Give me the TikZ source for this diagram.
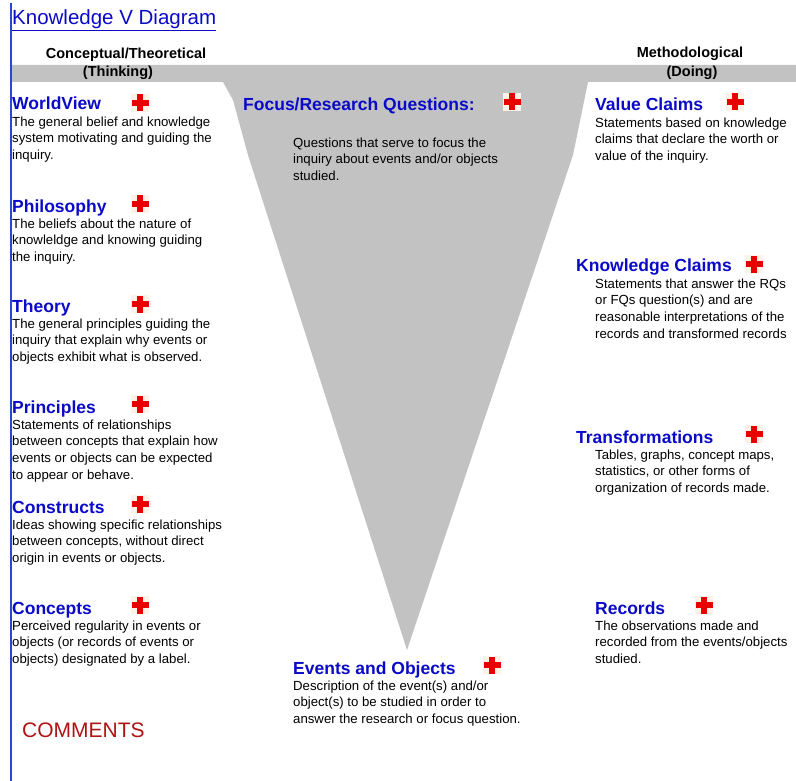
\documentclass[tikz,border=0pt]{standalone}
\usepackage{fontspec}
\setmainfont{Liberation Sans}
\definecolor{vblue}{RGB}{10,10,200}
\definecolor{lineblue}{RGB}{40,70,210}
\definecolor{vgray}{RGB}{194,194,194}
\definecolor{crossred}{RGB}{232,0,0}
\definecolor{crossbg}{RGB}{252,242,232}
\definecolor{commred}{RGB}{175,20,20}
\tikzset{
  head/.style={font=\fontsize{17.5}{20}\selectfont\bfseries, text=vblue, anchor=base west, inner sep=0pt},
  bodytext/.style={font=\fontsize{13.2}{16.8}\selectfont, text=black, anchor=north west, inner sep=0pt, align=left},
  sidehead/.style={font=\fontsize{14.5}{17}\selectfont\bfseries, text=black, anchor=base, inner sep=0pt},
  redcross/.style={minimum size=18pt, inner sep=0pt, fill=crossbg,
    path picture={
      \fill[crossred] ([xshift=-8.5pt,yshift=-2.6pt]path picture bounding box.center) rectangle ([xshift=8.5pt,yshift=2.6pt]path picture bounding box.center);
      \fill[crossred] ([xshift=-2.6pt,yshift=-8.5pt]path picture bounding box.center) rectangle ([xshift=2.6pt,yshift=8.5pt]path picture bounding box.center);
    }}
}
\newcommand{\bs}{\strut}
\begin{document}
\begin{tikzpicture}[x=1pt,y=-1pt]
\useasboundingbox (0,0) rectangle (796,781);
\fill[white] (0,0) rectangle (796,781);
% V shape with band
\fill[vgray] (12,65) -- (796,65) -- (796,82) -- (588,82) -- (573,155) -- (407,650) -- (248,155) -- (233,100) -- (223,82) -- (12,82) -- cycle;
% left blue rule
\draw[lineblue, line width=1.4pt] (11,3) -- (11,781);
% title
\node[font=\fontsize{20.5}{24}\selectfont, text=vblue, anchor=base west, inner sep=0pt] (title) at (12,25) {\underline{Knowledge V Diagram}};
% side headers
\node[sidehead] (concept) at (126,58.5) {Conceptual/Theoretical};
\node[sidehead] (thinking) at (118,77) {(Thinking)};
\node[sidehead] (method) at (690,57.5) {Methodological};
\node[sidehead] (doing) at (692,77) {(Doing)};
% left column
\node[head] (wv) at (12,110) {WorldView};
\node[redcross] (cwv) at (140,103) {};
\node[bodytext] (wvb) at (12,126-11.8) {\bs The general belief and knowledge\\system motivating and guiding the\\inquiry.};
\node[head] (ph) at (12,212) {Philosophy};
\node[redcross] (cph) at (140,204) {};
\node[bodytext] (phb) at (12,228-11.8) {\bs The beliefs about the nature of\\knowleldge and knowing guiding\\the inquiry.};
\node[head] (th) at (12,312) {Theory};
\node[redcross] (cth) at (140,304) {};
\node[bodytext] (thb) at (12,328-11.8) {\bs The general principles guiding the\\inquiry that explain why events or\\objects exhibit what is observed.};
\node[head] (pr) at (12,413) {Principles};
\node[redcross] (cpr) at (140,404) {};
\node[bodytext] (prb) at (12,429-11.8) {\bs Statements of relationships\\between concepts that explain how\\events or objects can be expected\\to appear or behave.};
\node[head] (co) at (12,513) {Constructs};
\node[redcross] (cco) at (140,504) {};
\node[bodytext] (cob) at (12,529-11.8) {\bs Ideas showing specific relationships\\between concepts, without direct\\origin in events or objects.};
\node[head] (cn) at (12,614) {Concepts};
\node[redcross] (ccn) at (140,605) {};
\node[bodytext] (cnb) at (12,630-11.8) {\bs Perceived regularity in events or\\objects (or records of events or\\objects) designated by a label.};
\node[font=\fontsize{21}{24}\selectfont, text=commred, anchor=base west, inner sep=0pt] (comments) at (22,737) {COMMENTS};
% middle
\node[head] (fq) at (243,111) {Focus/Research Questions:};
\node[redcross] (cfq) at (512,102) {};
\node[bodytext] (fqb) at (293,147-11.8) {\bs Questions that serve to focus the\\inquiry about events and/or objects\\studied.};
\node[head] (eo) at (293,674) {Events and Objects};
\node[redcross] (ceo) at (492,665) {};
\node[bodytext] (eob) at (293,690-11.8) {\bs Description of the event(s) and/or\\object(s) to be studied in order to\\answer the research or focus question.};
% right column
\node[head] (vc) at (595,111) {Value Claims};
\node[redcross] (cvc) at (735,102) {};
\node[bodytext] (vcb) at (595,127-11.8) {\bs Statements based on knowledge\\claims that declare the worth or\\value of the inquiry.};
\node[head] (kc) at (576,272) {Knowledge Claims};
\node[redcross] (ckc) at (754,264) {};
\node[bodytext] (kcb) at (595,288-11.8) {\bs Statements that answer the RQs\\or FQs question(s) and are\\reasonable interpretations of the\\records and transformed records};
\node[head] (tr) at (576,443) {Transformations};
\node[redcross] (ctr) at (754,434) {};
\node[bodytext] (trb) at (595,459-11.8) {\bs Tables, graphs, concept maps,\\statistics, or other forms of\\organization of records made.};
\node[head] (rc) at (595,614) {Records};
\node[redcross] (crc) at (704,605) {};
\node[bodytext] (rcb) at (595,630-11.8) {\bs The observations made and\\recorded from the events/objects\\studied.};
\end{tikzpicture}
\end{document}
